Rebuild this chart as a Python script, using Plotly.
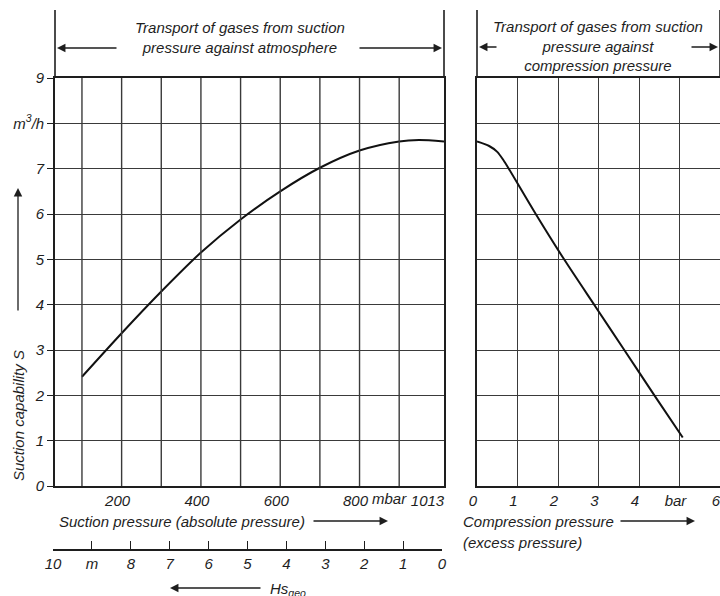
import plotly.graph_objects as go

# ---------------- data ----------------
suction_p = [100, 200, 300, 400, 500, 600, 700, 800, 900, 950, 1013]
suction_s = [2.41, 3.37, 4.29, 5.15, 5.88, 6.5, 7.02, 7.4, 7.6, 7.63, 7.6]

comp_p = [0, 0.3, 0.5, 0.65, 0.77, 1.45, 2.15, 2.93, 3.6, 4.38, 5.08]
comp_s = [7.6, 7.5, 7.37, 7.19, 7.02, 6.0, 5.0, 3.95, 3.05, 2.0, 1.07]

NB = "&nbsp;" * 6
left_tickvals = [200, 400, 600, 800, 1013]
left_ticktext = ["200", "400", "600", "800", "1013" + NB]
left_grid = [100, 200, 300, 400, 500, 600, 700, 800, 900]
right_tickvals = [0, 1, 2, 3, 4, 5, 6]
right_ticktext = ["0", "1", "2", "3", "4", "bar", "6"]
y_tickvals = [0, 1, 2, 3, 4, 5, 6, 7, 8, 9]
y_ticktext = ["0", "1", "2", "3", "4", "5", "6", "7", "m<sup>3</sup>/h", "9"]
hs_tickvals = [10, 9, 8, 7, 6, 5, 4, 3, 2, 1, 0]
hs_ticktext = ["10", "m", "8", "7", "6", "5", "4", "3", "2", "1", "0"]

# ---------------- layout helpers ----------------
W, H = 720, 596
def px(x):
    return x / W
def py(y):
    return (H - y) / H

FONT = "Liberation Sans Narrow, Liberation Sans, Arial Narrow, sans-serif"
INK = "#1e1e1e"
GRID = "#3a3a3a"
tfont = dict(family=FONT, size=15, color=INK, style="italic")

fig = go.Figure()
fig.add_trace(go.Scatter(x=suction_p, y=suction_s, mode="lines",
                         line=dict(color="#111", width=2, shape="spline", smoothing=0.8),
                         xaxis="x", yaxis="y", hoverinfo="skip", showlegend=False))
fig.add_trace(go.Scatter(x=comp_p, y=comp_s, mode="lines",
                         line=dict(color="#111", width=2, shape="spline", smoothing=0.8),
                         xaxis="x2", yaxis="y2", hoverinfo="skip", showlegend=False))
# carrier trace for the Hs_geo scale axis
fig.add_trace(go.Scatter(x=hs_tickvals, y=[0] * len(hs_tickvals), mode="markers",
                         marker=dict(opacity=0), xaxis="x3", yaxis="y3",
                         hoverinfo="skip", showlegend=False))

y0p, y9p = 486, 78
ydom = [py(y0p), py(y9p)]

common_axis = dict(showline=True, linecolor=INK, linewidth=1.6, mirror=True,
                   gridcolor=GRID, gridwidth=1.4, zeroline=False, automargin=False,
                   tickfont=tfont, fixedrange=True)

fig.update_layout(
    width=W, height=H,
    margin=dict(l=0, r=0, t=0, b=0, autoexpand=False),
    paper_bgcolor="white", plot_bgcolor="white",
    font=dict(family=FONT, color=INK),
    xaxis=dict(domain=[px(55), px(444)], range=[32, 1013], anchor="y",
               tickmode="array", tickvals=left_tickvals, ticktext=left_ticktext,
               ticks="", showgrid=False, ticklabelshift=-4,
               ticklabeloverflow="allow", **common_axis),
    yaxis=dict(domain=ydom, range=[0, 9], anchor="x",
               tickmode="array", tickvals=y_tickvals, ticktext=y_ticktext,
               ticks="outside", ticklen=6, tickcolor=INK, tickwidth=1.4,
               showgrid=True, **common_axis),
    xaxis2=dict(domain=[px(477), px(720)], range=[0, 6], anchor="y2",
                tickmode="array", tickvals=right_tickvals, ticktext=right_ticktext,
                ticks="", showgrid=True, ticklabelshift=-4,
                ticklabeloverflow="allow", **common_axis),
    yaxis2=dict(domain=ydom, range=[0, 9], anchor="x2",
                tickmode="array", tickvals=y_tickvals, showticklabels=False,
                ticks="", showgrid=True, **common_axis),
    xaxis3=dict(domain=[px(53), px(442)], range=[10, 0], anchor="y3",
                tickmode="array", tickvals=hs_tickvals, ticktext=hs_ticktext,
                ticks="inside", ticklen=8, tickcolor=INK, tickwidth=1.4,
                showline=True, linecolor=INK, linewidth=1.6, showgrid=False,
                zeroline=False, automargin=False, tickfont=tfont, fixedrange=True),
    yaxis3=dict(domain=[py(549), py(547)], range=[-1, 1], anchor="x3",
                visible=False, automargin=False, fixedrange=True),
)

# vertical grid lines of the left panel
shapes = []
for g in left_grid:
    shapes.append(dict(type="line", xref="x", yref="y", x0=g, x1=g, y0=0, y1=9,
                       line=dict(color=GRID, width=1.4)))
# frame extensions above the plot
for xr, xv in (("x domain", 0), ("x domain", 1), ("x2 domain", 0), ("x2 domain", 1)):
    shapes.append(dict(type="line", xref=xr, yref="paper", x0=xv, x1=xv,
                       y0=py(y9p), y1=py(10), line=dict(color=INK, width=1.6)))
fig.update_layout(shapes=shapes)

ann = []
def text(x, y, s, xanchor="center", yanchor="middle", angle=0):
    ann.append(dict(x=px(x), y=py(y), xref="paper", yref="paper", text=s,
                    showarrow=False, xanchor=xanchor, yanchor=yanchor,
                    textangle=angle, font=tfont, align="center"))
def arrow(x0, y0, x1, y1):
    # arrow with head at (x1, y1), tail at (x0, y0) (pixel coordinates)
    ann.append(dict(x=px(x1), y=py(y1), xref="paper", yref="paper",
                    ax=x0 - x1, ay=y0 - y1, axref="pixel", ayref="pixel",
                    text="", showarrow=True, arrowhead=2, arrowsize=1.3,
                    arrowwidth=1.3, arrowcolor=INK))

# top headings
text(240, 38, "Transport of gases from suction<br>pressure against atmosphere")
arrow(118, 48, 57, 48)
arrow(358, 48, 442, 48)
text(598, 46, "Transport of gases from suction<br>pressure against<br>compression pressure")
arrow(498, 47, 479, 47)
arrow(690, 47, 718, 47)

# y title
text(18, 416, "Suction capability S", angle=-90)
arrow(18, 312, 18, 188)

# x titles
text(57, 521, "Suction pressure (absolute pressure)", xanchor="left")
arrow(312, 521, 388, 521)
text(389, 498, "mbar", xanchor="center")
text(461, 521, "Compression pressure", xanchor="left")
arrow(619, 521, 695, 521)
text(461, 542, "(excess pressure)", xanchor="left")

# Hs_geo
text(268, 589, "Hs<sub>geo</sub>", xanchor="left")
arrow(262, 588, 170, 588)

fig.update_layout(annotations=ann)

fig.write_html("out.html")
